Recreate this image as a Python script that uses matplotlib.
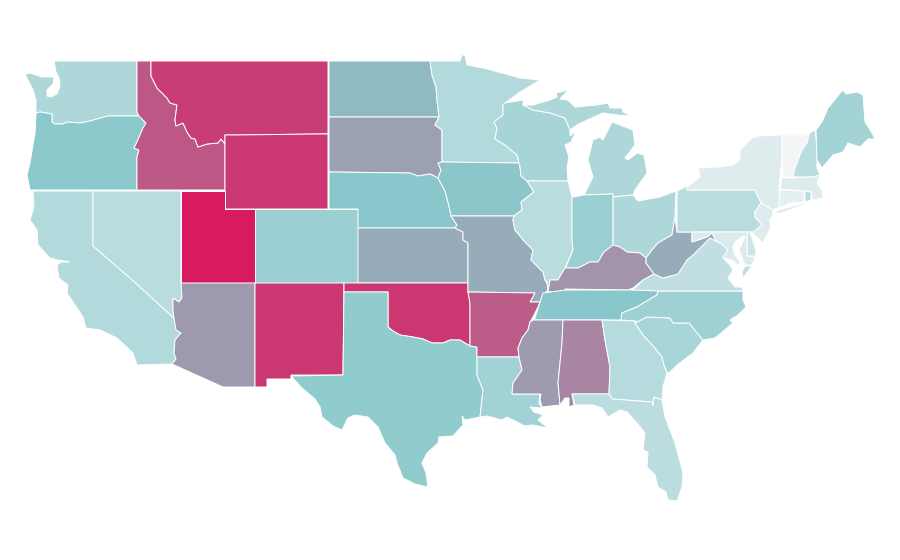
# Choropleth of the lower 48 states. No shapefile available here, so the outlines
# are traced by hand, in image coordinates of a 900x560 map.
import matplotlib
matplotlib.use('Agg')
import matplotlib.pyplot as plt
from matplotlib.colors import LinearSegmentedColormap, Normalize

# ================================ State values ================================
states = ['WA', 'OR', 'CA', 'NV', 'ID', 'MT', 'WY', 'UT', 'CO', 'AZ', 'NM', 'ND', 'SD', 'NE', 'KS', 'OK',
          'TX', 'MN', 'IA', 'MO', 'AR', 'LA', 'WI', 'IL', 'MI', 'IN', 'OH', 'KY', 'TN', 'MS', 'AL', 'GA',
          'FL', 'SC', 'NC', 'VA', 'WV', 'PA', 'NY', 'VT', 'NH', 'ME', 'MA', 'CT', 'RI', 'NJ', 'DE', 'MD']
values = [33, 49, 31, 28, 82.5, 90, 91.5, 100, 42, 63.5, 91.5, 54, 61.5, 50, 58, 92,
          47, 31, 51, 58, 81, 39, 37, 28, 33, 43, 33, 65, 50, 63, 69, 29,
          27, 36, 41, 24, 58, 28, 10, 0, 27, 38, 10, 7, 28, 10, 18, 12]

# ============================== Shared boundaries =============================
wa_or = [(139, 116), (108, 116), (90, 121), (80, 123), (67, 122), (63, 124), (55, 124), (52, 122), (52, 114),
         (40, 112), (36, 113)]
or_id = [(139, 116), (146, 123), (143, 128), (137, 142), (134, 148), (139, 150), (137, 157), (137, 190)]
id_mt = [(151, 61), (151, 76), (157, 88), (167, 98), (170, 103), (177, 105), (175, 120), (176, 126), (183, 123),
         (187, 132), (191, 138), (195, 139), (198, 147), (207, 144), (218, 143), (221, 139), (225, 144)]
ca_az = [(174, 318), (176, 330), (181, 333), (175, 340), (174, 353), (176, 359), (172, 364)]
nv_az = [(181, 283), (182, 298), (179, 302), (173, 298), (173, 310), (174, 318)]
red_river = [(388, 327), (393, 331), (400, 335), (413, 337), (423, 339), (432, 343), (443, 343), (450, 340),
             (460, 340), (470, 346)]
ne_east = [(438, 178), (445, 191), (449, 206), (451, 216), (457, 225), (455, 228)]
sd_east = [(439, 117), (435, 125), (442, 130), (442, 162), (438, 163), (441, 170), (438, 178)]
mn_wi = [(505, 103), (503, 105), (503, 115), (494, 122), (497, 128), (495, 139), (505, 145), (517, 155), (519, 163)]
ia_il = [(519, 163), (520, 167), (521, 176), (527, 181), (534, 192), (521, 202), (522, 210), (514, 216)]
mo_il = [(514, 216), (513, 220), (515, 230), (525, 242), (533, 250), (531, 260), (543, 272), (545, 280), (548, 285)]
ar_east = [(540, 302), (538, 307), (533, 317), (530, 322), (528, 330), (522, 338), (518, 348), (519, 357)]
ms_la = [(519, 357), (522, 370), (513, 383), (512, 394)]
ms_al = [(563, 320), (562, 343), (558, 383), (560, 405)]
al_ga = [(602, 320), (605, 340), (610, 367), (609, 394)]
ga_sc = [(635, 323), (643, 335), (655, 348), (662, 357), (664, 365), (667, 373)]
nc_sc = [(635, 323), (647, 317), (670, 318), (673, 323), (689, 323), (703, 340)]
tn_nc = [(621, 320), (622, 313), (637, 307), (645, 302), (657, 295), (658, 291)]
ky_il = [(548, 292), (550, 280), (558, 280), (565, 268)]
ky_in = [(565, 268), (578, 268), (590, 262), (598, 262), (604, 252), (613, 245)]
ky_oh = [(613, 245), (620, 247), (627, 252), (640, 253), (646, 258)]
ky_wv = [(646, 258), (646, 263), (654, 274)]
oh_wv = [(646, 258), (652, 250), (658, 243), (672, 235), (675, 217)]
va_wv = [(654, 274), (663, 278), (678, 274), (687, 260), (693, 255), (700, 248), (710, 238), (716, 241)]
md_va = [(716, 241), (723, 245), (728, 250), (723, 258)]
ny_vt = [(782, 135), (782, 160), (780, 177)]
vt_nh = [(809, 135), (807, 143), (802, 150), (795, 168), (793, 177)]

# ================================ State outlines ==============================
outlines = {
    'WA': [[(54, 61), (137, 61), (137, 112)] + wa_or
           + [(36, 100), (33, 90), (25, 74), (30, 73), (42, 77), (54, 77), (53, 84), (47, 90), (47, 96), (51, 97),
              (57, 94), (60, 86), (59, 78), (56, 72)]],
    'OR': [wa_or[::-1] + or_id[1:] + [(30, 190), (27, 175), (30, 163), (35, 133), (36, 115)]],
    'CA': [[(33, 191), (93, 191), (93, 246), (130, 278)] + ca_az
           + [(137, 365), (133, 353), (117, 338), (100, 330), (86, 328), (83, 317), (67, 293), (68, 285), (59, 278),
              (57, 265), (61, 262), (70, 262), (58, 260), (50, 258), (38, 245), (37, 230), (30, 220), (34, 207)]],
    'NV': [[(93, 191), (181, 191)] + nv_az + [(130, 278), (93, 246)]],
    'ID': [[(137, 61)] + id_mt + [(225, 190), (137, 190)] + or_id[::-1] + [(137, 112)]],
    'MT': [[(151, 61), (328, 61), (328, 134), (320, 134), (235, 135), (225, 135)] + id_mt[::-1]],
    'WY': [[(225, 135), (235, 135), (320, 134), (328, 134), (328, 209), (225, 209)]],
    'UT': [[(181, 191), (225, 191), (225, 209), (255, 209), (255, 283), (181, 283)]],
    'CO': [[(255, 209), (358, 209), (358, 283), (255, 283)]],
    'AZ': [[(181, 283), (255, 283), (255, 387), (223, 387)] + ca_az[::-1] + nv_az[::-1][1:]],
    'NM': [[(255, 283), (344, 283), (343, 375), (291, 375), (291, 379), (267, 379), (267, 387), (255, 387)]],
    'ND': [[(329, 61), (430, 61), (432, 75), (436, 87), (437, 100), (439, 117), (329, 117)]],
    'SD': [[(329, 117)] + sd_east + [(430, 174), (418, 176), (410, 173), (329, 172)]],
    'NE': [[(329, 172), (410, 173), (418, 176), (430, 174), (438, 178)] + ne_east[1:]
           + [(358, 228), (358, 209), (329, 209)]],
    'KS': [[(358, 228), (455, 228), (463, 232), (463, 240), (468, 243), (468, 283), (358, 283)]],
    'OK': [[(344, 283), (468, 283), (468, 292), (470, 303), (470, 346)] + red_river[::-1][1:]
           + [(388, 292), (344, 292)]],
    'TX': [[(344, 292), (388, 292)] + red_river
           + [(477, 347), (477, 375), (483, 390), (480, 417), (465, 420), (462, 416), (463, 425), (453, 436), (439, 437),
              (438, 443), (427, 453), (422, 463), (426, 473), (428, 487), (415, 484), (403, 478), (397, 463), (395, 455),
              (385, 443), (378, 427), (368, 417), (355, 415), (348, 418), (342, 430), (333, 426), (322, 417), (320, 407),
              (315, 399), (302, 388), (291, 376), (343, 375)]],
    'MN': [[(430, 61), (460, 61), (462, 55), (465, 55), (467, 65), (483, 68), (502, 73), (520, 78), (540, 80),
            (520, 92)] + mn_wi + [(442, 162), (442, 130), (435, 125), (439, 117), (437, 100), (436, 87), (432, 75)]],
    'IA': [[(442, 162), (519, 163)] + ia_il[1:3] + [(527, 181), (534, 192), (521, 202), (522, 210), (514, 216),
            (451, 216), (449, 206), (445, 191), (438, 178), (441, 170), (438, 163)]],
    'MO': [[(451, 216), (514, 216)] + mo_il[1:] + [(548, 290), (543, 295), (540, 302), (530, 302), (535, 293),
            (468, 292), (468, 243), (463, 240), (463, 232), (455, 228), (457, 225)]],
    'AR': [[(468, 292), (535, 293), (530, 302)] + ar_east
           + [(477, 357), (477, 347), (470, 346), (470, 303)]],
    'LA': [[(477, 357), (519, 357)] + ms_la[1:]
           + [(540, 394), (539, 403), (542, 408), (530, 407), (534, 412), (543, 415), (538, 420), (548, 428), (533, 425),
              (525, 426), (513, 420), (507, 417), (502, 420), (487, 416), (480, 417), (483, 390), (477, 375)]],
    'WI': [[(505, 103), (523, 100), (523, 105), (533, 110), (550, 113), (565, 118), (570, 130), (570, 136), (576, 131),
            (571, 142), (565, 145), (569, 157), (567, 167), (568, 181), (528, 181), (527, 181)] + ia_il[:3][::-1]
           + mn_wi[::-1][1:]],
    'IL': [[(527, 181), (568, 181), (572, 197), (572, 240), (573, 250), (565, 268)] + ky_il[::-1][1:]
           + [(547, 282), (545, 280), (543, 272), (531, 260), (533, 250), (525, 242), (515, 230), (513, 220), (514, 216),
              (522, 210), (521, 202), (534, 192)]],
    'MI': [[(583, 195), (613, 194), (613, 197), (633, 195), (635, 190), (642, 180), (647, 173), (644, 155), (637, 153),
            (628, 160), (625, 158), (635, 145), (633, 130), (620, 125), (612, 122), (608, 130), (603, 140), (600, 137),
            (593, 140), (588, 160), (593, 177), (585, 193)],
           [(523, 105), (533, 105), (550, 100), (557, 97), (556, 93), (568, 90), (560, 99), (568, 100), (575, 107),
            (597, 105), (608, 103), (610, 108), (622, 108), (623, 112), (632, 116), (617, 115), (603, 113), (587, 120),
            (577, 125), (570, 130), (565, 118), (550, 113), (533, 110)]],
    'IN': [[(572, 197), (575, 197), (583, 195), (613, 194), (613, 245)] + ky_in[::-1][1:] + [(566, 267), (573, 250),
            (572, 240)]],
    'OH': [[(613, 197), (633, 195), (638, 201), (660, 197), (676, 191), (675, 217)] + oh_wv[::-1][1:] + ky_oh[::-1][1:]],
    'KY': [ky_il + ky_in[1:] + ky_oh[1:] + ky_wv[1:] + [(643, 280), (633, 288), (628, 290), (565, 289), (565, 291)]],
    'TN': [[(543, 293), (565, 290), (657, 290), (658, 291)] + tn_nc[::-1][1:] + [(533, 320), (535, 318), (540, 302)]],
    'MS': [[(533, 320), (563, 320)] + ms_al[1:]
           + [(542, 407), (540, 400), (541, 394), (512, 394), (513, 383), (522, 370), (519, 357), (518, 348), (522, 338),
              (528, 330), (530, 322)]],
    'AL': [[(563, 320), (602, 320)] + al_ga[1:]
           + [(572, 394), (574, 405), (569, 407), (569, 398), (565, 398), (560, 405)] + ms_al[::-1][1:]],
    'GA': [[(602, 320), (636, 321)] + ga_sc + [(663, 387), (662, 400), (654, 397), (653, 406), (652, 402), (612, 399),
            (609, 394)] + al_ga[::-1][1:]],
    'FL': [[(572, 394), (609, 394), (612, 399), (652, 402), (653, 406), (654, 397), (662, 400), (665, 417), (675, 443),
            (683, 473), (682, 487), (677, 501), (668, 500), (666, 492), (658, 487), (655, 475), (647, 467), (648, 452),
            (643, 450), (645, 433), (637, 423), (627, 412), (620, 410), (608, 417), (602, 408), (593, 405), (575, 405)]],
    'SC': [nc_sc + [(693, 353), (677, 365), (670, 372), (667, 373)] + ga_sc[::-1][1:]],
    'NC': [[(658, 291), (743, 291), (743, 300), (746, 307), (738, 315), (730, 320), (733, 323), (715, 338), (703, 340)]
           + nc_sc[::-1][1:] + [(636, 321), (621, 320)] + tn_nc[1:-1]],
    'VA': [[(633, 290), (643, 280), (654, 274)] + va_wv[1:] + md_va[1:]
           + [(730, 265), (733, 270), (728, 278), (735, 287), (742, 287), (743, 291), (658, 291)],
           [(745, 266), (752, 266), (743, 278), (742, 272)]],
    'WV': [oh_wv + [(677, 232), (692, 232), (692, 242), (707, 237), (712, 233), (716, 241)] + va_wv[::-1][1:] + ky_wv[::-1][1:]],
    'PA': [[(677, 191), (687, 186), (687, 190), (755, 190), (761, 203), (755, 212), (755, 217), (762, 225), (755, 232),
            (677, 232)]],
    'NY': [[(687, 190), (687, 187), (700, 177), (698, 168), (718, 167), (733, 165), (740, 160), (740, 150), (752, 138),
            (758, 136)] + ny_vt + [(779, 190), (780, 207), (773, 210), (761, 203), (755, 190)],
           [(775, 211), (790, 207), (803, 203), (807, 203), (795, 208), (778, 214)]],
    'VT': [ny_vt[:1] + vt_nh + [(783, 177)] + ny_vt[::-1][1:]],
    'NH': [[(811, 132), (815, 130), (817, 147), (817, 168), (820, 175), (813, 177)] + vt_nh[::-1]],
    'ME': [[(816, 130), (822, 122), (828, 108), (833, 102), (840, 93), (843, 90), (846, 94), (857, 92), (863, 95),
            (865, 122), (872, 133), (875, 139), (868, 139), (860, 147), (848, 143), (843, 152), (833, 155), (822, 168),
            (817, 160)]],
    'MA': [[(782, 178), (815, 177), (820, 175), (817, 183), (822, 190), (823, 197), (830, 195), (823, 198), (813, 200),
            (811, 192), (780, 189)]],
    'CT': [[(780, 190), (804, 191), (804, 202), (790, 203), (779, 208)]],
    'RI': [[(805, 191), (811, 192), (811, 200), (805, 202)]],
    'NJ': [[(761, 203), (773, 210), (773, 215), (770, 220), (771, 227), (763, 243), (760, 240), (752, 233), (762, 225),
            (755, 217), (755, 212)]],
    'DE': [[(747, 232), (750, 232), (756, 250), (756, 256), (747, 256)]],
    'MD': [[(692, 232), (747, 232), (747, 256), (755, 257), (752, 265), (745, 265), (742, 257), (739, 250), (745, 237),
            (743, 236), (735, 242), (733, 248), (735, 255), (740, 262), (738, 265), (732, 260)] + md_va[::-1]
           + [(712, 233), (707, 237), (692, 242)]],
}

# ================================= Color Map ==================================
# lower <---> higher: pale grey, teal at the midpoint, then pink
cmap = LinearSegmentedColormap.from_list('map', ['#f4f5f6', '#8ac8cc', '#d81b60'])
norm = Normalize(vmin=0, vmax=100)

fig = plt.figure(figsize=(9, 5.6), dpi=100)
ax = fig.add_axes([0, 0, 1, 1])

for state, value in zip(states, values):
    for part in outlines[state]:
        xs, ys = zip(*part)
        ax.fill(xs, ys, fc=cmap(norm(value)), ec='white', lw=0.7, joinstyle='miter')

ax.set_xlim(0, 900)
ax.set_ylim(560, 0)
ax.axis('off')

plt.savefig('out.png', dpi=100)
